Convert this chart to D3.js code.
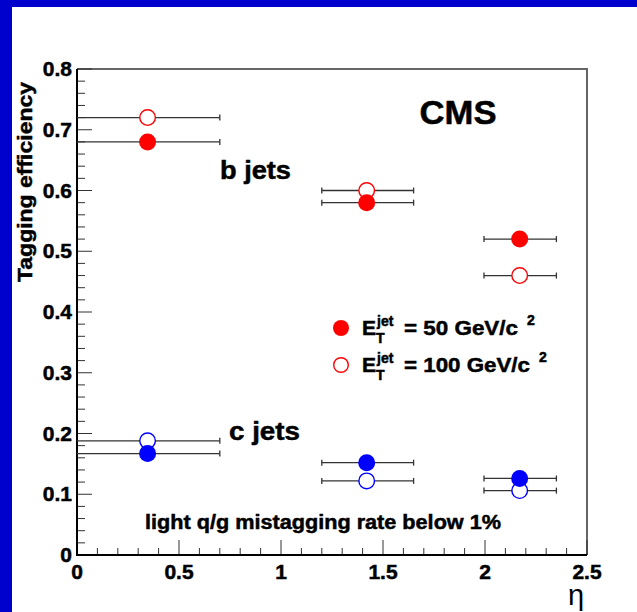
<!DOCTYPE html>
<html>
<head>
<meta charset="utf-8">
<script src="https://cdn.jsdelivr.net/npm/d3@7"></script>
<style>
  body { margin: 0; background: #fff; }
  text { font-family: "Liberation Sans", Arial, sans-serif; }
  text.b { font-weight: bold; stroke: #000; stroke-width: 0.5px; }
</style>
</head>
<body>
<svg id="svg"></svg>
<script>
// Data
const etaCenter = [0.346, 1.42, 2.17];
const etaLow = [0.0, 1.2, 1.995];
const etaHigh = [0.70, 1.65, 2.35];
const bJets50 = [0.680, 0.580, 0.520];
const bJets100 = [0.720, 0.600, 0.460];
const cJets50 = [0.167, 0.152, 0.126];
const cJets100 = [0.188, 0.122, 0.106];
const xTicks = [0, 0.5, 1, 1.5, 2, 2.5];
const yTicks = [0, 0.1, 0.2, 0.3, 0.4, 0.5, 0.6, 0.7, 0.8];
const legendLabels = ["= 50 GeV/c", "= 100 GeV/c"];

// SVG Dimensions
const width = 637, height = 612;
const svg = d3.select("#svg").attr("width", width).attr("height", height);

// blue frame around the canvas
svg.append("rect").attr("x", 0).attr("y", 0).attr("width", width).attr("height", height).attr("fill", "#0000cc");
svg.append("rect").attr("x", 12).attr("y", 7).attr("width", width - 12).attr("height", height - 7).attr("fill", "#fff");

const x = d3.scaleLinear().domain([0, 2.5]).range([77, 587]);
const y = d3.scaleLinear().domain([0, 0.8]).range([555, 69]);

// top and right frame
svg.append("path")
    .attr("d", `M${x(0)},${y(0.8)}H${x(2.5)}V${y(0)}`)
    .attr("fill", "none").attr("stroke", "#666").attr("stroke-width", 2);

// ticks
const xMinor = d3.range(0, 2.51, 0.1);
svg.selectAll(".xt").data(xMinor).enter().append("line")
    .attr("x1", d => x(d)).attr("x2", d => x(d))
    .attr("y1", y(0))
    .attr("y2", (d, i) => y(0) - (i % 5 === 0 ? 15 : 7))
    .attr("stroke", "#333").attr("stroke-width", 1);
const yMinor = d3.range(0, 0.801, 0.02);
svg.selectAll(".yt").data(yMinor).enter().append("line")
    .attr("y1", d => y(d)).attr("y2", d => y(d))
    .attr("x1", x(0))
    .attr("x2", (d, i) => x(0) + (i % 5 === 0 ? 15 : 8))
    .attr("stroke", "#333").attr("stroke-width", 1);

// axis lines
svg.append("path")
    .attr("d", `M${x(0)},${y(0.8)}V${y(0)}H${x(2.5)}`)
    .attr("fill", "none").attr("stroke", "#000").attr("stroke-width", 2);

// tick labels
svg.selectAll(".xl").data(xTicks).enter().append("text")
    .attr("class", "b")
    .attr("x", d => x(d)).attr("y", 579)
    .attr("text-anchor", "middle")
    .attr("font-size", 21)
    .text(d => d);
svg.selectAll(".yl").data(yTicks).enter().append("text")
    .attr("class", "b")
    .attr("x", 72).attr("y", d => y(d) + 7)
    .attr("text-anchor", "end")
    .attr("font-size", 21)
    .text(d => d);

// axis titles
svg.append("text")
    .attr("class", "b")
    .attr("transform", "translate(32,182) rotate(-90)")
    .attr("text-anchor", "middle")
    .attr("font-size", 21)
    .attr("textLength", 200).attr("lengthAdjust", "spacingAndGlyphs")
    .text("Tagging efficiency");
svg.append("text")
    .attr("x", 576).attr("y", 605)
    .attr("text-anchor", "middle")
    .attr("font-size", 29)
    .text("η");

// series
const series = [
    { values: bJets100, color: "#ff0000", filled: false },
    { values: bJets50, color: "#ff0000", filled: true },
    { values: cJets100, color: "#0000ff", filled: false },
    { values: cJets50, color: "#0000ff", filled: true }
];

series.forEach(s => {
    const g = svg.append("g");
    const pts = s.values.map((v, i) => ({ v: v, i: i }));
    g.selectAll(".err").data(pts).enter().append("line")
        .attr("x1", d => x(etaLow[d.i])).attr("x2", d => x(etaHigh[d.i]))
        .attr("y1", d => y(d.v)).attr("y2", d => y(d.v))
        .attr("stroke", "#333").attr("stroke-width", 1.3);
    g.selectAll(".capL").data(pts).enter().append("line")
        .attr("x1", d => x(etaLow[d.i])).attr("x2", d => x(etaLow[d.i]))
        .attr("y1", d => y(d.v) - 3).attr("y2", d => y(d.v) + 3)
        .attr("stroke", "#333").attr("stroke-width", 1.3)
        .attr("display", d => etaLow[d.i] === 0 ? "none" : null);
    g.selectAll(".capR").data(pts).enter().append("line")
        .attr("x1", d => x(etaHigh[d.i])).attr("x2", d => x(etaHigh[d.i]))
        .attr("y1", d => y(d.v) - 3).attr("y2", d => y(d.v) + 3)
        .attr("stroke", "#333").attr("stroke-width", 1.3);
    g.selectAll("circle").data(pts).enter().append("circle")
        .attr("cx", d => x(etaCenter[d.i])).attr("cy", d => y(d.v))
        .attr("r", s.filled ? 8.5 : 7.8)
        .attr("fill", s.filled ? s.color : "#fff")
        .attr("stroke", s.color).attr("stroke-width", s.filled ? 0 : 1.4);
});

// annotations
svg.append("text").attr("class", "b").attr("x", 458).attr("y", 124).attr("text-anchor", "middle")
    .attr("font-size", 33)
    .attr("textLength", 77).attr("lengthAdjust", "spacingAndGlyphs").text("CMS");
svg.append("text").attr("class", "b").attr("x", 220).attr("y", 179)
    .attr("font-size", 26)
    .attr("textLength", 71).attr("lengthAdjust", "spacingAndGlyphs").text("b jets");
svg.append("text").attr("class", "b").attr("x", 229).attr("y", 440)
    .attr("font-size", 26)
    .attr("textLength", 71).attr("lengthAdjust", "spacingAndGlyphs").text("c jets");
svg.append("text").attr("class", "b").attr("x", 145).attr("y", 529)
    .attr("font-size", 20)
    .attr("textLength", 356).attr("lengthAdjust", "spacingAndGlyphs")
    .text("light q/g mistagging rate below 1%");

// legend
const legend = [
    { label: legendLabels[0], color: "#ff0000", filled: true, base: 335, len: 114 },
    { label: legendLabels[1], color: "#ff0000", filled: false, base: 372, len: 126 }
];
legend.forEach(l => {
    svg.append("circle").attr("cx", 341).attr("cy", l.base - 7)
        .attr("r", l.filled ? 8 : 7.3)
        .attr("fill", l.filled ? l.color : "#fff")
        .attr("stroke", l.color).attr("stroke-width", l.filled ? 0 : 1.4);
    svg.append("text").attr("class", "b").attr("x", 362).attr("y", l.base)
        .attr("font-size", 21).text("E");
    svg.append("text").attr("class", "b").attr("x", 377).attr("y", l.base - 9)
        .attr("font-size", 14).text("jet");
    svg.append("text").attr("class", "b").attr("x", 376).attr("y", l.base + 8)
        .attr("font-size", 14).text("T");
    svg.append("text").attr("class", "b").attr("x", 404).attr("y", l.base)
        .attr("font-size", 21)
        .attr("textLength", l.len).attr("lengthAdjust", "spacingAndGlyphs").text(l.label);
    svg.append("text").attr("class", "b").attr("x", 404 + l.len + 9).attr("y", l.base - 10)
        .attr("font-size", 14).text("2");
});
</script>
</body>
</html>
